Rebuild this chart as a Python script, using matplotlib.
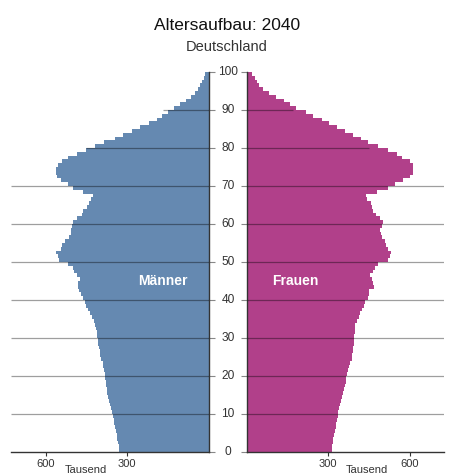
import matplotlib
matplotlib.use("Agg")
import matplotlib.pyplot as plt
import matplotlib.transforms as mtransforms
import numpy as np

plt.rcParams['font.family'] = ['Liberation Sans', 'DejaVu Sans']

ages = list(range(0, 100))

men = [329, 331, 333, 336, 338, 341, 344, 347, 350, 353,
       357, 360, 363, 366, 370, 373, 376, 378, 380, 382,
       383, 385, 388, 391, 395, 399, 402, 404, 406, 408,
       410, 412, 415, 418, 424, 430, 437, 443, 450, 455,
       462, 470, 476, 480, 480, 473, 485, 495, 500, 516,
       551, 556, 560, 545, 538, 530, 515, 507, 505, 503,
       500, 486, 468, 462, 449, 441, 433, 427, 461, 500,
       516, 544, 559, 562, 561, 555, 540, 516, 485, 451,
       418, 384, 345, 314, 283, 252, 222, 192, 172, 150,
       130, 108, 85, 65, 52, 40, 32, 25, 20, 15]

women = [312, 314, 316, 318, 321, 324, 327, 329, 332, 334,
         337, 340, 344, 347, 351, 355, 358, 361, 364, 367,
         370, 373, 377, 381, 386, 389, 391, 393, 394, 395,
         396, 397, 398, 400, 405, 412, 418, 424, 430, 437,
         448, 450, 452, 468, 466, 460, 454, 466, 472, 485,
         522, 526, 530, 520, 513, 510, 500, 494, 490, 498,
         503, 490, 476, 466, 462, 458, 442, 438, 479, 522,
         546, 577, 600, 612, 614, 612, 602, 571, 553, 522,
         485, 448, 419, 392, 361, 333, 303, 275, 244, 216,
         182, 160, 135, 108, 80, 60, 45, 36, 28, 20]

x_ticks = [300, 600]
age_ticks = list(range(0, 101, 10))
full_grid = [10, 20, 30, 40, 50, 60, 70]
short_grid = {80: 450, 90: 168}

title = "Altersaufbau: 2040"
subtitle = "Deutschland"
unit = "Tausend"

blue = "#6589b1"
magenta = "#b1408a"
dark = "#333333"
XMAX = 727

W, H = 453, 475
fig = plt.figure(figsize=(W / 100, H / 100), dpi=100)
axL = fig.add_axes([11 / W, 23 / H, 198 / W, 380 / H])
axR = fig.add_axes([247 / W, 23 / H, 197 / W, 380 / H])

for ax, vals, col in [(axL, men, blue), (axR, women, magenta)]:
    ax.barh(ages, vals, height=1.0, align='edge', color=col, lw=0, zorder=2)
    ax.set_xlim(0, XMAX)
    ax.set_ylim(0, 100)
    for g in full_grid:
        ax.plot([0, XMAX], [g, g], color='black', alpha=0.38, lw=0.9, zorder=3,
                solid_capstyle='butt')
    for g, ext in short_grid.items():
        ax.plot([0, ext], [g, g], color='black', alpha=0.38, lw=0.9, zorder=3,
                solid_capstyle='butt')
    ax.set_xticks(x_ticks)
    ax.set_xticklabels([str(t) for t in x_ticks])
    ax.tick_params(axis='x', direction='out', length=3, width=0.8, colors=dark,
                   labelsize=8, pad=2)
    ax.set_yticks(age_ticks)
    ax.tick_params(axis='y', direction='out', length=4, width=0.8, color='#888888',
                   labelleft=False, labelright=False)
    for s in ax.spines.values():
        s.set_visible(False)
    ax.spines['bottom'].set_visible(True)
    ax.spines['bottom'].set_color(dark)
    ax.spines['bottom'].set_linewidth(1.0)
    ax.set_facecolor('none')

axL.invert_xaxis()
axL.yaxis.tick_right()
axL.spines['right'].set_visible(True)
axL.spines['right'].set_color(dark)
axL.spines['right'].set_linewidth(1.0)
axR.yaxis.tick_left()
axR.spines['left'].set_visible(True)
axR.spines['left'].set_color(dark)
axR.spines['left'].set_linewidth(1.0)

trans = mtransforms.blended_transform_factory(fig.transFigure, axL.transData)
for a in age_ticks:
    fig.text(228 / W, a, str(a), transform=trans, ha='center', va='center',
             fontsize=8.6, color=dark)

axL.text(300, 45, "Männer", ha='center', va='center', color='white',
         fontsize=10, fontweight='bold', zorder=5)
axR.text(300, 45, "Frauen", ha='center', va='center', color='white',
         fontsize=10, fontweight='bold', zorder=5)
axL.texts[-1].set_x(170)
axR.texts[-1].set_x(180)

fig.text(86 / W, 1 - 465 / H, unit, ha='center', va='top', fontsize=8, color=dark)
fig.text(367 / W, 1 - 465 / H, unit, ha='center', va='top', fontsize=8, color=dark)

fig.text(227 / W, 1 - 25 / H, title, ha='center', va='center', fontsize=12.5, color='#111111')
fig.text(227 / W, 1 - 47 / H, subtitle, ha='center', va='center', fontsize=10.5, color=dark)

fig.savefig("out.png", dpi=100)
